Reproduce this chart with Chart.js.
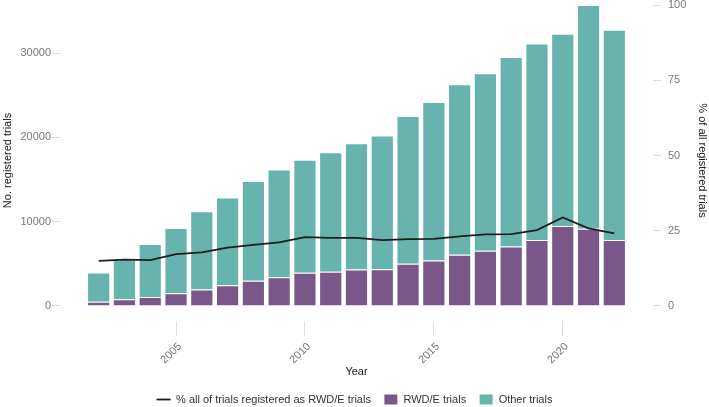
<!DOCTYPE html>
<html>
<head>
<meta charset="utf-8">
<script src="https://cdn.jsdelivr.net/npm/chart.js@4.4.1/dist/chart.umd.min.js"></script>
<style>
  body { margin: 0; background: #fff; }
</style>
</head>
<body>
<canvas id="trialsChart" width="709" height="407"></canvas>
<script>
// ================================================================
// Data
// ================================================================
const years = [2002, 2003, 2004, 2005, 2006, 2007, 2008, 2009, 2010, 2011, 2012,
  2013, 2014, 2015, 2016, 2017, 2018, 2019, 2020, 2021, 2022];
const rwdTrials = [500, 800, 1070, 1510, 1940, 2460, 2980, 3410, 3930, 4050, 4330,
  4370, 5000, 5400, 6070, 6550, 7060, 7820, 9480, 9170, 7840];
const otherTrials = [3460, 4700, 6270, 7740, 9290, 10400, 11860, 12780, 13410, 14200, 14990,
  15870, 17540, 18800, 20240, 21070, 22500, 23330, 22820, 26540, 24930];
const rwdPercent = [15.0, 15.4, 15.2, 17.2, 17.8, 19.4, 20.3, 21.1, 22.9, 22.6, 22.6,
  21.9, 22.2, 22.3, 23.1, 23.8, 23.9, 25.2, 29.4, 25.8, 24.1];

const xTicks = [2005, 2010, 2015, 2020];
const leftTicks = [0, 10000, 20000, 30000];
const rightTicks = [0, 25, 50, 75, 100];

const seriesLabels = ['% all of trials registered as RWD/E trials', 'RWD/E trials', 'Other trials'];

// ================================================================
// Chart
// ================================================================
Chart.defaults.font.family = "'Liberation Sans', Arial, sans-serif";
Chart.defaults.color = '#777';

const toPoints = (values) => values.map((v, i) => ({x: years[i], y: v}));
const fixTicks = (list) => (axis) => { axis.ticks = list.map(v => ({value: v})); };
const plainLabel = (v) => String(v);

const tickGrid = {
  drawOnChartArea: false,
  drawTicks: true,
  tickLength: 8,
  offset: false,
  color: '#dedede'
};

const config = {
  data: {
    datasets: [
      {
        type: 'line',
        label: seriesLabels[0],
        data: toPoints(rwdPercent),
        yAxisID: 'y2',
        borderColor: '#1c1c1c',
        backgroundColor: '#1c1c1c',
        borderWidth: 1.8,
        pointRadius: 0,
        pointStyle: 'line',
        tension: 0,
        fill: false,
        order: 0
      },
      {
        type: 'bar',
        label: seriesLabels[1],
        data: toPoints(rwdTrials),
        yAxisID: 'y',
        backgroundColor: '#7b5689',
        borderColor: '#ffffff',
        borderWidth: 1,
        pointStyle: 'rect',
        barPercentage: 0.9,
        categoryPercentage: 1,
        order: 1
      },
      {
        type: 'bar',
        label: seriesLabels[2],
        data: toPoints(otherTrials),
        yAxisID: 'y',
        backgroundColor: '#67b3ae',
        borderColor: '#ffffff',
        borderWidth: 1,
        pointStyle: 'rect',
        barPercentage: 0.9,
        categoryPercentage: 1,
        order: 1
      }
    ]
  },
  options: {
    responsive: false,
    animation: false,
    devicePixelRatio: 1,
    layout: { padding: { top: 0, left: 0, right: 0, bottom: -8 } },
    plugins: {
      tooltip: { enabled: false },
      legend: {
        position: 'bottom',
        labels: {
          usePointStyle: true,
          pointStyleWidth: 14,
          boxHeight: 14,
          padding: 13,
          color: '#333',
          font: { size: 11 }
        }
      }
    },
    scales: {
      x: {
        type: 'linear',
        offset: false,
        min: 2000.5,
        max: 2023.5,
        stacked: true,
        afterBuildTicks: fixTicks(xTicks),
        afterFit: (axis) => { axis.height = 60; axis.paddingLeft = 0; axis.paddingRight = 0; },
        grid: Object.assign({}, tickGrid, { tickLength: 15 }),
        border: { display: false },
        ticks: {
          minRotation: 45,
          maxRotation: 45,
          padding: 4,
          labelOffset: 4,
          font: { size: 11 },
          callback: plainLabel
        },
        title: {
          display: true,
          text: 'Year',
          color: '#1a1a1a',
          font: { size: 11 },
          padding: { top: 0, bottom: 2 }
        }
      },
      y: {
        position: 'left',
        stacked: true,
        min: -1786,
        max: 36310,
        afterBuildTicks: fixTicks(leftTicks),
        afterFit: (axis) => { axis.width = 60; axis.paddingTop = 0; axis.paddingBottom = 0; },
        grid: tickGrid,
        border: { display: false },
        ticks: { padding: 1, font: { size: 11 }, callback: plainLabel },
        title: {
          display: true,
          text: 'No. registered trials',
          color: '#1a1a1a',
          font: { size: 11 },
          padding: { top: 1, bottom: 0 }
        }
      },
      y2: {
        position: 'right',
        min: -5,
        max: 101.67,
        afterBuildTicks: fixTicks(rightTicks),
        afterFit: (axis) => { axis.width = 56; axis.paddingTop = 0; axis.paddingBottom = 0; },
        grid: tickGrid,
        border: { display: false },
        ticks: { padding: 7, font: { size: 11 }, callback: plainLabel },
        title: {
          display: true,
          text: '% of all registered trials',
          color: '#1a1a1a',
          font: { size: 11 },
          padding: { top: 0, bottom: 0 }
        }
      }
    }
  }
};

new Chart(document.getElementById('trialsChart'), config);
</script>
</body>
</html>
